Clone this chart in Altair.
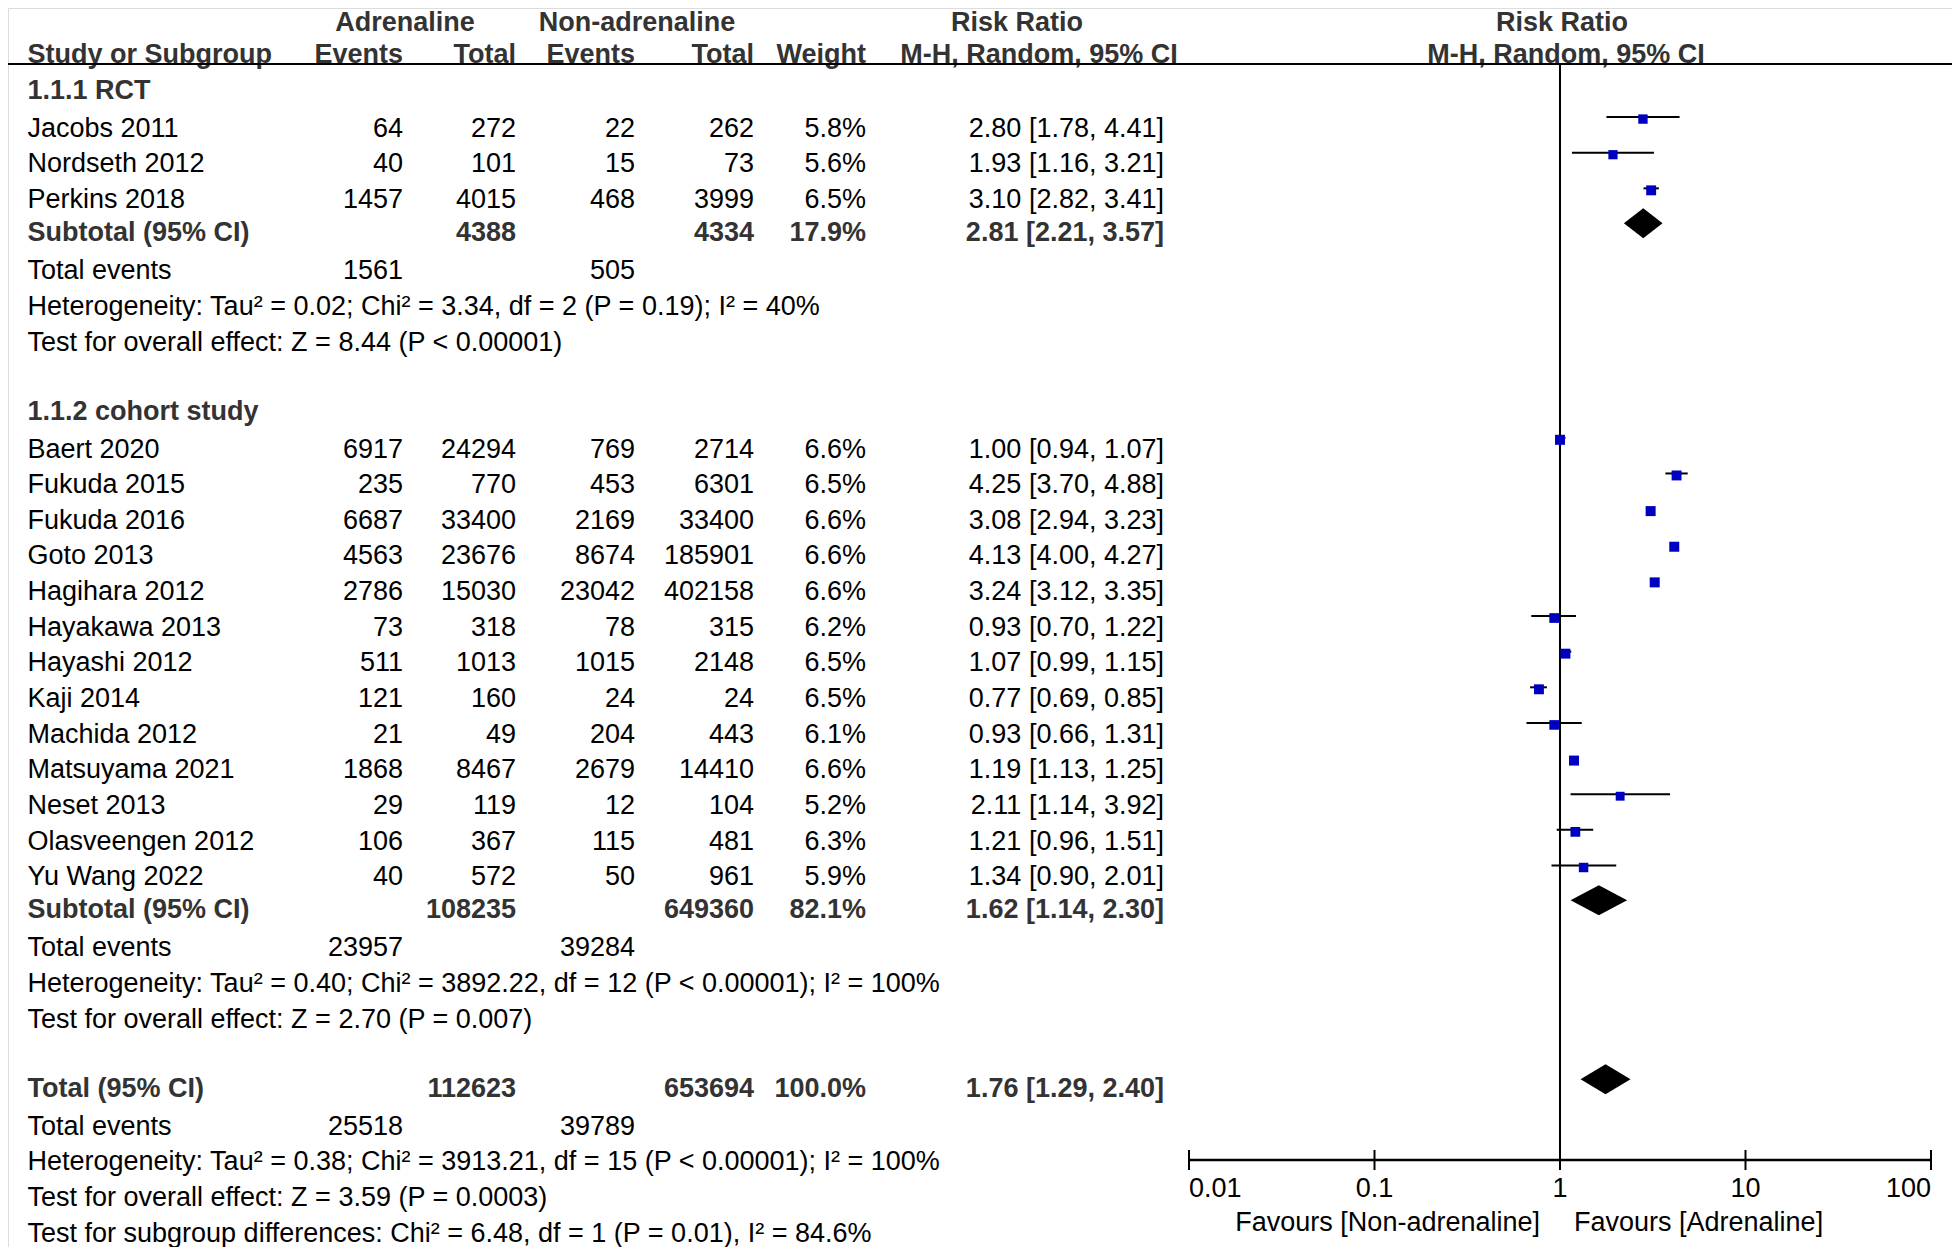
import altair as alt
import pandas as pd

# ---------------- data ----------------
rct_names = ["Jacobs 2011", "Nordseth 2012", "Perkins 2018"]
rct_ev_a = [64, 40, 1457]
rct_tot_a = [272, 101, 4015]
rct_ev_n = [22, 15, 468]
rct_tot_n = [262, 73, 3999]
rct_weight = [5.8, 5.6, 6.5]
rct_rr = [2.80, 1.93, 3.10]
rct_lo = [1.78, 1.16, 2.82]
rct_hi = [4.41, 3.21, 3.41]

coh_names = ["Baert 2020", "Fukuda 2015", "Fukuda 2016", "Goto 2013", "Hagihara 2012",
             "Hayakawa 2013", "Hayashi 2012", "Kaji 2014", "Machida 2012", "Matsuyama 2021",
             "Neset 2013", "Olasveengen 2012", "Yu Wang 2022"]
coh_ev_a = [6917, 235, 6687, 4563, 2786, 73, 511, 121, 21, 1868, 29, 106, 40]
coh_tot_a = [24294, 770, 33400, 23676, 15030, 318, 1013, 160, 49, 8467, 119, 367, 572]
coh_ev_n = [769, 453, 2169, 8674, 23042, 78, 1015, 24, 204, 2679, 12, 115, 50]
coh_tot_n = [2714, 6301, 33400, 185901, 402158, 315, 2148, 24, 443, 14410, 104, 481, 961]
coh_weight = [6.6, 6.5, 6.6, 6.6, 6.6, 6.2, 6.5, 6.5, 6.1, 6.6, 5.2, 6.3, 5.9]
coh_rr = [1.00, 4.25, 3.08, 4.13, 3.24, 0.93, 1.07, 0.77, 0.93, 1.19, 2.11, 1.21, 1.34]
coh_lo = [0.94, 3.70, 2.94, 4.00, 3.12, 0.70, 0.99, 0.69, 0.66, 1.13, 1.14, 0.96, 0.90]
coh_hi = [1.07, 4.88, 3.23, 4.27, 3.35, 1.22, 1.15, 0.85, 1.31, 1.25, 3.92, 1.51, 2.01]

# summaries: [RCT, cohort, overall]
sum_labels = ["Subtotal (95% CI)", "Subtotal (95% CI)", "Total (95% CI)"]
sum_tot_a = [4388, 108235, 112623]
sum_tot_n = [4334, 649360, 653694]
sum_weight = ["17.9%", "82.1%", "100.0%"]
sum_rr = [2.81, 1.62, 1.76]
sum_lo = [2.21, 1.14, 1.29]
sum_hi = [3.57, 2.30, 2.40]
sum_ev_a = [1561, 23957, 25518]
sum_ev_n = [505, 39284, 39789]
sum_het = [
    "Heterogeneity: Tau² = 0.02; Chi² = 3.34, df = 2 (P = 0.19); I² = 40%",
    "Heterogeneity: Tau² = 0.40; Chi² = 3892.22, df = 12 (P < 0.00001); I² = 100%",
    "Heterogeneity: Tau² = 0.38; Chi² = 3913.21, df = 15 (P < 0.00001); I² = 100%",
]
sum_test = [
    "Test for overall effect: Z = 8.44 (P < 0.00001)",
    "Test for overall effect: Z = 2.70 (P = 0.007)",
    "Test for overall effect: Z = 3.59 (P = 0.0003)",
]
subgroup_test = "Test for subgroup differences: Chi² = 6.48, df = 1 (P = 0.01), I² = 84.6%"
group_titles = ["1.1.1 RCT", "1.1.2 cohort study"]
axis_ticks = [0.01, 0.1, 1, 10, 100]
axis_tick_labels = ["0.01", "0.1", "1", "10", "100"]
favours_left = "Favours [Non-adrenaline]"
favours_right = "Favours [Adrenaline]"

# ---------------- layout ----------------
W, H = 1944, 1239
STEP = 35.64
Y0 = 10 + 3.06 * STEP
FS = 27
DY = 9.7
BOLD_COL = "#333333"
BLUE = "#0000c0"
FONT = "Liberation Sans"

NAME_X, EVA_X, TOTA_X, EVN_X, TOTN_X, W_X, RR_X = 19.5, 395, 508, 627, 746, 858, 1156


def yc(slot):
    return Y0 + STEP * slot


def ci_text(r, lo, hi):
    return f"{r:.2f} [{lo:.2f}, {hi:.2f}]"


txt = []


def add(slot, x, text, anchor, bold=False, shift=0.0):
    txt.append(dict(x=x, y=yc(slot) + shift, text=str(text), anchor=anchor, heavy=("b" if bold else "n")))


# headers
HS = 3.5  # keep the top header row inside the drawing area
add(-3.06, 397, "Adrenaline", "center", True, HS)
add(-3.06, 629, "Non-adrenaline", "center", True, HS)
add(-3.06, 1009, "Risk Ratio", "center", True, HS)
add(-3.06, 1554, "Risk Ratio", "center", True, HS)
add(-2.08, NAME_X, "Study or Subgroup", "left", True)
add(-2.08, EVA_X, "Events", "right", True)
add(-2.08, TOTA_X, "Total", "right", True)
add(-2.08, EVN_X, "Events", "right", True)
add(-2.08, TOTN_X, "Total", "right", True)
add(-2.08, W_X, "Weight", "right", True)
add(-2.08, 1031, "M-H, Random, 95% CI", "center", True)
add(-2.08, 1558, "M-H, Random, 95% CI", "center", True)

HEADER_RULE_Y = yc(-2.08) + 11

forest = []
diamonds = []


def add_diamond(gi, s):
    c = yc(s) - 8
    diamonds.append(dict(gid=gi, xv=sum_lo[gi], ytop=c, ybot=c))
    diamonds.append(dict(gid=gi, xv=sum_rr[gi], ytop=c - 15, ybot=c + 15))
    diamonds.append(dict(gid=gi, xv=sum_hi[gi], ytop=c, ybot=c))


def add_summary(gi, s):
    add(s, NAME_X, sum_labels[gi], "left", True)
    add(s, TOTA_X, sum_tot_a[gi], "right", True)
    add(s, TOTN_X, sum_tot_n[gi], "right", True)
    add(s, W_X, sum_weight[gi], "right", True)
    add(s, RR_X, ci_text(sum_rr[gi], sum_lo[gi], sum_hi[gi]), "right", True)
    add_diamond(gi, s)


groups = [
    (rct_names, rct_ev_a, rct_tot_a, rct_ev_n, rct_tot_n, rct_weight, rct_rr, rct_lo, rct_hi),
    (coh_names, coh_ev_a, coh_tot_a, coh_ev_n, coh_tot_n, coh_weight, coh_rr, coh_lo, coh_hi),
]

slot = -1
for gi, g in enumerate(groups):
    names, ea, ta, en, tn, wt, rr, lo, hi = g
    add(slot - 0.06, NAME_X, group_titles[gi], "left", True)
    slot += 1
    for i in range(len(names)):
        add(slot, NAME_X, names[i], "left")
        add(slot, EVA_X, ea[i], "right")
        add(slot, TOTA_X, ta[i], "right")
        add(slot, EVN_X, en[i], "right")
        add(slot, TOTN_X, tn[i], "right")
        add(slot, W_X, f"{wt[i]:.1f}%", "right")
        add(slot, RR_X, ci_text(rr[i], lo[i], hi[i]), "right")
        forest.append(dict(rr=rr[i], lo=lo[i], hi=hi[i], w=wt[i], ysq=yc(slot) - 8, yl=yc(slot) - 10))
        slot += 1
    add_summary(gi, slot - 0.08)
    slot += 1
    add(slot, NAME_X, "Total events", "left")
    add(slot, EVA_X, sum_ev_a[gi], "right")
    add(slot, EVN_X, sum_ev_n[gi], "right")
    slot += 1
    add(slot, NAME_X, sum_het[gi], "left")
    slot += 1
    add(slot, NAME_X, sum_test[gi], "left")
    slot += 2

# overall
add_summary(2, slot - 0.06)
slot += 1
add(slot, NAME_X, "Total events", "left")
add(slot, EVA_X, sum_ev_a[2], "right")
add(slot, EVN_X, sum_ev_n[2], "right")
slot += 1
add(slot, NAME_X, sum_het[2], "left")
slot += 1
add(slot, NAME_X, sum_test[2], "left")
slot += 1
add(slot, NAME_X, subgroup_test, "left")

txt_df = pd.DataFrame(txt)
forest_df = pd.DataFrame(forest)
dia_df = pd.DataFrame(diamonds)

AXIS_Y = 1152
axis_df = pd.DataFrame(dict(v=axis_ticks, label=axis_tick_labels,
                            anchor=["left", "center", "center", "center", "right"]))

# ---------------- scales ----------------
px_x = alt.Scale(domain=[0, W], range=[0, W], nice=False, zero=False)
px_y = alt.Scale(domain=[0, H], range=[0, H], nice=False, zero=False)
log_x = alt.Scale(type="log", domain=[0.01, 100], range=[1181, 1923], nice=False)

layers = []

# text layers
for anchor in ["left", "right", "center"]:
    for heavy in ["n", "b"]:
        sub = txt_df[(txt_df["anchor"] == anchor) & (txt_df["heavy"] == heavy)]
        if len(sub) == 0:
            continue
        layers.append(
            alt.Chart(sub).mark_text(
                align=anchor, baseline="alphabetic", dy=DY, fontSize=FS,
                font=FONT, fontWeight="bold" if heavy == "b" else "normal",
                color=BOLD_COL if heavy == "b" else "#000000",
            ).encode(x=alt.X("x:Q", scale=px_x, axis=None),
                     y=alt.Y("y:Q", scale=px_y, axis=None),
                     text="text:N")
        )

# header rule
layers.append(
    alt.Chart(pd.DataFrame(dict(x=[0], x2=[W], y=[HEADER_RULE_Y]))).mark_rule(color="#000000", strokeWidth=2)
    .encode(x=alt.X("x:Q", scale=px_x, axis=None), x2="x2:Q", y=alt.Y("y:Q", scale=px_y, axis=None))
)

# vertical line at RR = 1
layers.append(
    alt.Chart(pd.DataFrame(dict(x=[1], y=[HEADER_RULE_Y], y2=[AXIS_Y]))).mark_rule(color="#000000", strokeWidth=2)
    .encode(x=alt.X("x:Q", scale=log_x, axis=None), y=alt.Y("y:Q", scale=px_y, axis=None), y2="y2:Q")
)

# CI lines
layers.append(
    alt.Chart(forest_df).mark_rule(color="#000000", strokeWidth=2)
    .encode(x=alt.X("lo:Q", scale=log_x, axis=None), x2="hi:Q", y=alt.Y("yl:Q", scale=px_y, axis=None))
)
# squares
layers.append(
    alt.Chart(forest_df).mark_square(color=BLUE, opacity=1, filled=True)
    .encode(x=alt.X("rr:Q", scale=log_x, axis=None), y=alt.Y("ysq:Q", scale=px_y, axis=None),
            size=alt.Size("w:Q", scale=alt.Scale(domain=[0, 6.6], range=[0, 100], zero=True), legend=None))
)
# diamonds
layers.append(
    alt.Chart(dia_df).mark_area(color="#000000", opacity=1, interpolate="linear", orient="vertical")
    .encode(x=alt.X("xv:Q", scale=log_x, axis=None),
            y=alt.Y("ytop:Q", scale=px_y, axis=None, stack=None),
            y2=alt.Y2("ybot:Q"),
            detail="gid:N")
)

# axis line and ticks
layers.append(
    alt.Chart(pd.DataFrame(dict(x=[axis_ticks[0]], x2=[axis_ticks[-1]], y=[AXIS_Y])))
    .mark_rule(color="#000000", strokeWidth=2.5)
    .encode(x=alt.X("x:Q", scale=log_x, axis=None), x2="x2:Q", y=alt.Y("y:Q", scale=px_y, axis=None))
)
layers.append(
    alt.Chart(axis_df).mark_rule(color="#000000", strokeWidth=2)
    .encode(x=alt.X("v:Q", scale=log_x, axis=None),
            y=alt.value(AXIS_Y - 10), y2=alt.value(AXIS_Y + 10))
)
for anchor in ["left", "center", "right"]:
    layers.append(
        alt.Chart(axis_df[axis_df["anchor"] == anchor]).mark_text(
            align=anchor, baseline="alphabetic", dy=DY, fontSize=FS, font=FONT, color="#000000")
        .encode(x=alt.X("v:Q", scale=log_x, axis=None), y=alt.value(1179), text="label:N")
    )

fav = pd.DataFrame(dict(x=[1, 1], label=[favours_left, favours_right], side=["l", "r"]))
layers.append(
    alt.Chart(fav[fav["side"] == "l"]).mark_text(align="right", baseline="alphabetic", dy=DY, dx=-20,
                                                   fontSize=FS, font=FONT, color="#000000")
    .encode(x=alt.X("x:Q", scale=log_x, axis=None), y=alt.value(1213), text="label:N")
)
layers.append(
    alt.Chart(fav[fav["side"] == "r"]).mark_text(align="left", baseline="alphabetic", dy=DY, dx=14,
                                                   fontSize=FS, font=FONT, color="#000000")
    .encode(x=alt.X("x:Q", scale=log_x, axis=None), y=alt.value(1213), text="label:N")
)

chart = (
    alt.layer(*layers)
    .resolve_scale(x="independent", size="independent")
    .properties(width=W, height=H, autosize=alt.AutoSizeParams(type="none"), padding=0)
    .configure_view(stroke="transparent", strokeWidth=0)
    .configure(background="#ffffff")
)

chart.save("out.html", embed_options={"renderer": "svg", "actions": False})
